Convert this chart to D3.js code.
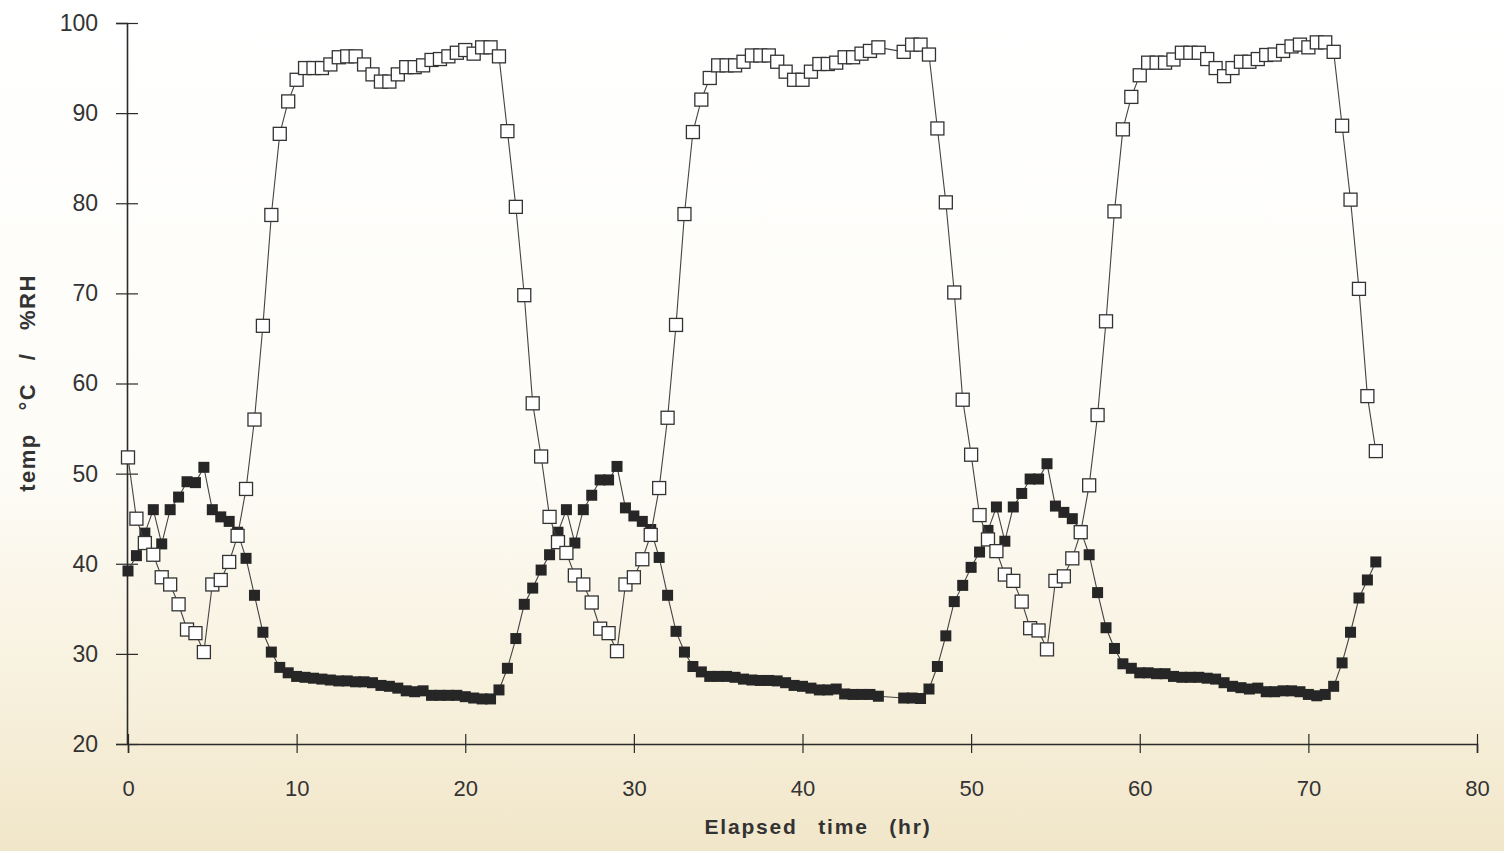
<!DOCTYPE html>
<html>
<head>
<meta charset="utf-8">
<script src="https://cdn.jsdelivr.net/npm/d3@7.9.0/dist/d3.min.js"></script>
<style>
  html, body { margin: 0; padding: 0; }
  body {
    width: 1504px; height: 851px; overflow: hidden;
    background: linear-gradient(to bottom, #ffffff 0%, #fdfcf7 55%, #f7f0dc 82%, #f1e6c9 100%);
  }
  svg { display: block; font-family: "Liberation Sans", Arial, sans-serif; }
</style>
</head>
<body>
<svg id="chart" width="1504" height="851"></svg>
<script>
// elapsed time (hr) of each reading; two readings missing near 45 hr
const hours = [
  0, 0.5, 1, 1.5, 2, 2.5, 3, 3.5, 4, 4.5, 5, 5.5, 6, 6.5, 7, 7.5, 8, 8.5, 9, 9.5,
  10, 10.5, 11, 11.5, 12, 12.5, 13, 13.5, 14, 14.5, 15, 15.5, 16, 16.5, 17, 17.5, 18, 18.5, 19, 19.5,
  20, 20.5, 21, 21.5, 22, 22.5, 23, 23.5, 24, 24.5, 25, 25.5, 26, 26.5, 27, 27.5, 28, 28.5, 29, 29.5,
  30, 30.5, 31, 31.5, 32, 32.5, 33, 33.5, 34, 34.5, 35, 35.5, 36, 36.5, 37, 37.5, 38, 38.5, 39, 39.5,
  40, 40.5, 41, 41.5, 42, 42.5, 43, 43.5, 44, 44.5, 46, 46.5, 47, 47.5, 48, 48.5, 49, 49.5,
  50, 50.5, 51, 51.5, 52, 52.5, 53, 53.5, 54, 54.5, 55, 55.5, 56, 56.5, 57, 57.5, 58, 58.5, 59, 59.5,
  60, 60.5, 61, 61.5, 62, 62.5, 63, 63.5, 64, 64.5, 65, 65.5, 66, 66.5, 67, 67.5, 68, 68.5, 69, 69.5,
  70, 70.5, 71, 71.5, 72, 72.5, 73, 73.5, 74
];

// temperature, degC (filled squares)
const temp = [
  39.2, 40.9, 43.4, 46.0, 42.2, 46.0, 47.4, 49.1, 49.0, 50.7, 46.0, 45.2, 44.7, 43.5, 40.6, 36.5, 32.4, 30.2, 28.5, 27.9,
  27.5, 27.4, 27.3, 27.2, 27.1, 27.0, 27.0, 26.9, 26.9, 26.8, 26.5, 26.4, 26.2, 25.9, 25.8, 25.9, 25.4, 25.4, 25.4, 25.4,
  25.25, 25.1, 25.0, 25.0, 26.0, 28.4, 31.7, 35.5, 37.3, 39.3, 41.0, 43.5, 46.0, 42.3, 46.0, 47.6, 49.3, 49.3, 50.8, 46.2,
  45.3, 44.7, 43.8, 40.7, 36.5, 32.5, 30.2, 28.6, 28.0, 27.5, 27.5, 27.5, 27.4, 27.2, 27.1, 27.05, 27.05, 27.0, 26.8, 26.5,
  26.4, 26.2, 26.0, 26.0, 26.1, 25.55, 25.5, 25.5, 25.5, 25.3, 25.1, 25.1, 25.05, 26.1, 28.6, 32.0, 35.8, 37.6,
  39.6, 41.3, 43.7, 46.3, 42.5, 46.3, 47.8, 49.4, 49.4, 51.1, 46.4, 45.7, 45.0, 43.7, 41.0, 36.8, 32.9, 30.6, 28.9, 28.4,
  27.9, 27.9, 27.8, 27.8, 27.5, 27.4, 27.4, 27.4, 27.3, 27.2, 26.8, 26.4, 26.25, 26.1, 26.2, 25.8, 25.8, 25.9, 25.9, 25.8,
  25.5, 25.35, 25.5, 26.4, 29.0, 32.4, 36.2, 38.2, 40.2
];

// relative humidity, %RH (open squares)
const rh = [
  51.8, 45.0, 42.3, 41.0, 38.5, 37.7, 35.5, 32.7, 32.3, 30.2, 37.7, 38.2, 40.2, 43.1, 48.3, 56.0, 66.4, 78.7, 87.7, 91.3,
  93.7, 95.0, 95.0, 95.0, 95.4, 96.2, 96.3, 96.3, 95.4, 94.3, 93.5, 93.5, 94.3, 95.1, 95.1, 95.3, 95.9, 96.0, 96.3, 96.7,
  97.0, 96.6, 97.3, 97.3, 96.3, 88.0, 79.6, 69.8, 57.8, 51.9, 45.2, 42.4, 41.2, 38.7, 37.7, 35.7, 32.8, 32.3, 30.3, 37.7,
  38.5, 40.5, 43.2, 48.4, 56.2, 66.5, 78.8, 87.9, 91.5, 93.9, 95.3, 95.3, 95.3, 95.7, 96.4, 96.4, 96.4, 95.7, 94.6, 93.7,
  93.7, 94.6, 95.45, 95.45, 95.6, 96.2, 96.2, 96.6, 96.9, 97.3, 96.8, 97.6, 97.6, 96.5, 88.3, 80.1, 70.1, 58.2,
  52.1, 45.4, 42.7, 41.4, 38.8, 38.1, 35.8, 32.85, 32.6, 30.5, 38.1, 38.6, 40.6, 43.5, 48.7, 56.5, 66.9, 79.1, 88.2, 91.8,
  94.2, 95.6, 95.6, 95.6, 95.95, 96.7, 96.7, 96.7, 96.0, 95.0, 94.1, 95.0, 95.7, 95.7, 96.0, 96.45, 96.5, 96.9, 97.4, 97.6,
  97.3, 97.85, 97.85, 96.8, 88.6, 80.4, 70.5, 58.6, 52.5
];

const xTicks = [0, 10, 20, 30, 40, 50, 60, 70, 80];
const yTicks = [20, 30, 40, 50, 60, 70, 80, 90, 100];

const svg = d3.select('#chart');
const ink = '#2b2b2b';

const x = d3.scaleLinear().domain([0, 80]).range([128, 1477]);
const y = d3.scaleLinear().domain([20, 100]).range([744, 23]);

// axes - ticks cross the axis line like the original plot
const xAxis = svg.append('g')
  .attr('transform', `translate(0,${y(20)})`)
  .call(d3.axisBottom(x).tickValues(xTicks).tickSizeOuter(0).tickSize(9).tickPadding(27));
xAxis.selectAll('.tick line').attr('y1', -10);

const yAxis = svg.append('g')
  .attr('transform', `translate(${x(0) - 1},0)`)
  .call(d3.axisLeft(y).tickValues(yTicks).tickSizeOuter(0).tickSize(11).tickPadding(18));
yAxis.selectAll('.tick line').attr('x1', 11);

svg.selectAll('.domain').attr('stroke', ink).attr('stroke-width', 1.6);
svg.selectAll('.tick line').attr('stroke', ink).attr('stroke-width', 1.2);
xAxis.selectAll('text').attr('font-size', 22).attr('fill', '#333');
yAxis.selectAll('text').attr('font-size', 23).attr('fill', '#333');

// axis titles
svg.append('text')
  .attr('x', 818).attr('y', 834)
  .attr('text-anchor', 'middle')
  .attr('font-size', 21).attr('font-weight', 'bold')
  .attr('letter-spacing', 1.8).attr('word-spacing', 13)
  .attr('fill', '#333')
  .text('Elapsed time (hr)');

svg.append('text')
  .attr('transform', 'translate(35,383) rotate(-90)')
  .attr('text-anchor', 'middle')
  .attr('font-size', 22).attr('font-weight', 'bold')
  .attr('letter-spacing', 1.5).attr('word-spacing', 15)
  .attr('fill', '#333')
  .text('temp °C / %RH');

const tempData = hours.map((h, i) => ({ h, v: temp[i] }));
const rhData = hours.map((h, i) => ({ h, v: rh[i] }));

const line = d3.line().x(d => x(d.h)).y(d => y(d.v));

// temperature series
svg.append('path')
  .datum(tempData)
  .attr('d', line)
  .attr('fill', 'none')
  .attr('stroke', '#444')
  .attr('stroke-width', 1.1);

svg.append('g').selectAll('rect')
  .data(tempData)
  .join('rect')
  .attr('x', d => x(d.h) - 5.5)
  .attr('y', d => y(d.v) - 5.5)
  .attr('width', 11)
  .attr('height', 11)
  .attr('fill', '#262626');

// RH series
svg.append('path')
  .datum(rhData)
  .attr('d', line)
  .attr('fill', 'none')
  .attr('stroke', '#444')
  .attr('stroke-width', 1.1);

svg.append('g').selectAll('rect')
  .data(rhData)
  .join('rect')
  .attr('x', d => x(d.h) - 6.5)
  .attr('y', d => y(d.v) - 6.5)
  .attr('width', 13)
  .attr('height', 13)
  .attr('fill', '#fff')
  .attr('stroke', '#333')
  .attr('stroke-width', 1.3);
</script>
</body>
</html>
